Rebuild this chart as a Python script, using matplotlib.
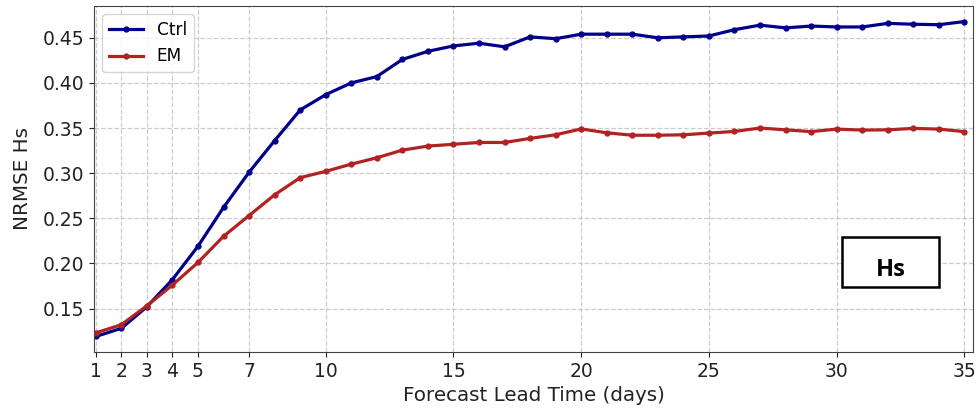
import numpy as np
import matplotlib
matplotlib.use("Agg")
import matplotlib.pyplot as plt
from matplotlib.patches import Rectangle

# lead time in days
days = np.arange(1, 36)

# NRMSE of Hs
ctrl = [0.119, 0.128, 0.152, 0.182, 0.219, 0.262, 0.301, 0.336, 0.370, 0.387,
        0.400, 0.407, 0.426, 0.435, 0.441, 0.444, 0.440, 0.451, 0.449, 0.454,
        0.454, 0.454, 0.450, 0.451, 0.452, 0.459, 0.464, 0.461, 0.463, 0.462,
        0.462, 0.466, 0.465, 0.4645, 0.468]
em = [0.123, 0.132, 0.153, 0.176, 0.201, 0.230, 0.253, 0.276, 0.295, 0.302,
      0.310, 0.317, 0.3255, 0.330, 0.332, 0.334, 0.334, 0.3385, 0.3425, 0.349,
      0.3447, 0.342, 0.342, 0.3425, 0.3444, 0.3462, 0.350, 0.348, 0.346, 0.3488,
      0.3477, 0.348, 0.3496, 0.3488, 0.346]

xticks = [1, 2, 3, 4, 5, 7, 10, 15, 20, 25, 30, 35]

fig = plt.figure(figsize=(9.76, 4.11), dpi=100)
ax = fig.add_axes([0.0963, 0.144, 0.901, 0.842])

ax.plot(days, ctrl, color='darkblue', marker='o', markersize=3.5, linewidth=2.3, label='Ctrl')
ax.plot(days, em, color='firebrick', marker='o', markersize=3.5, linewidth=2.3, label='EM')

ax.set_xlim(0.93, 35.35)
ax.set_ylim(0.102, 0.4855)
ax.set_xticks(xticks)
ax.set_yticks([0.15, 0.20, 0.25, 0.30, 0.35, 0.40, 0.45])
ax.tick_params(labelsize=13.5, colors='#222222')
ax.grid(True, linestyle='--', color='#cccccc', linewidth=0.9)
for s in ax.spines.values():
    s.set_color('#444444')

ax.set_xlabel('Forecast Lead Time (days)', fontsize=14.3, color='#222222')
ax.set_ylabel('NRMSE Hs', fontsize=14.3, color='#222222', labelpad=8)
ax.legend(loc='upper left', fontsize=12.2)

# label box in the lower right
ax.add_patch(Rectangle((0.8504, 0.186), 0.1104, 0.146, transform=ax.transAxes,
                       fill=True, facecolor='white', edgecolor='black', linewidth=1.8, zorder=5))
ax.text(0.9056, 0.235, 'Hs', transform=ax.transAxes, ha='center', va='center',
        fontsize=17, fontweight='bold', family='Open Sans', zorder=6)

fig.savefig('out.png', dpi=100)
